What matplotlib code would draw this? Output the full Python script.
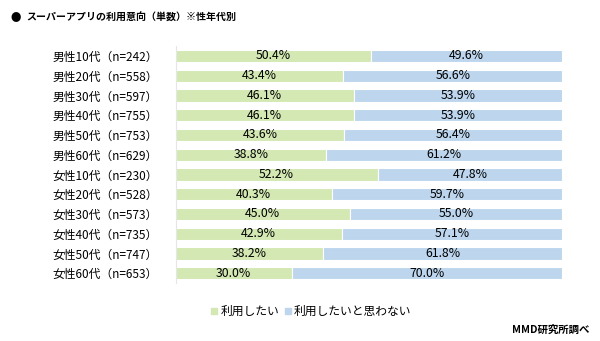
import matplotlib.pyplot as plt

plt.rcParams['font.family'] = ['Noto Sans CJK JP', 'DejaVu Sans']

categories = [
    "男性10代（n=242）", "男性20代（n=558）", "男性30代（n=597）",
    "男性40代（n=755）", "男性50代（n=753）", "男性60代（n=629）",
    "女性10代（n=230）", "女性20代（n=528）", "女性30代（n=573）",
    "女性40代（n=735）", "女性50代（n=747）", "女性60代（n=653）",
]
want = [50.4, 43.4, 46.1, 46.1, 43.6, 38.8, 52.2, 40.3, 45.0, 42.9, 38.2, 30.0]
not_want = [49.6, 56.6, 53.9, 53.9, 56.4, 61.2, 47.8, 59.7, 55.0, 57.1, 61.8, 70.0]
series_names = ["利用したい", "利用したいと思わない"]

GREEN = "#d3e8b3"
BLUE = "#bdd6ee"

fig = plt.figure(figsize=(6, 3.41), dpi=100)
ax = fig.add_axes([0.293, 0.170, 0.644, 0.695])

y = list(range(len(categories)))
ax.barh(y, want, height=0.62, color=GREEN, edgecolor="white", linewidth=0.8)
ax.barh(y, not_want, left=want, height=0.62, color=BLUE, edgecolor="white", linewidth=0.8)

for i in y:
    ax.text(want[i] / 2, i, f"{want[i]:.1f}%", ha="center", va="center", fontsize=8.8)
    ax.text(want[i] + not_want[i] / 2, i, f"{not_want[i]:.1f}%", ha="center", va="center", fontsize=8.8)

ax.set_xlim(0, 100)
ax.set_ylim(len(categories) - 0.5, -0.5)
ax.set_yticks(y)
ax.set_yticklabels(categories, fontsize=8.5)
ax.set_xticks([])
ax.tick_params(axis="y", length=0, pad=13)
for s in ["top", "right", "bottom"]:
    ax.spines[s].set_visible(False)
ax.spines["left"].set_color("#e6e6e6")
ax.spines["left"].set_linewidth(0.8)

fig.text(0.017, 0.948, "●", fontsize=7.5, va="center")
fig.text(0.043, 0.948, "スーパーアプリの利用意向（単数）※性年代別", fontsize=7.2,
         fontweight="bold", va="center")

# legend
fig.patches.append(plt.Rectangle((0.352, 0.078), 0.010, 0.018, color=GREEN, transform=fig.transFigure))
fig.text(0.367, 0.087, series_names[0], fontsize=8.5, va="center")
fig.patches.append(plt.Rectangle((0.475, 0.078), 0.010, 0.018, color=BLUE, transform=fig.transFigure))
fig.text(0.490, 0.087, series_names[1], fontsize=8.5, va="center")

fig.text(0.982, 0.032, "MMD研究所調べ", fontsize=7.5, fontweight="bold", ha="right", va="center")

fig.savefig("out.png", dpi=100)
